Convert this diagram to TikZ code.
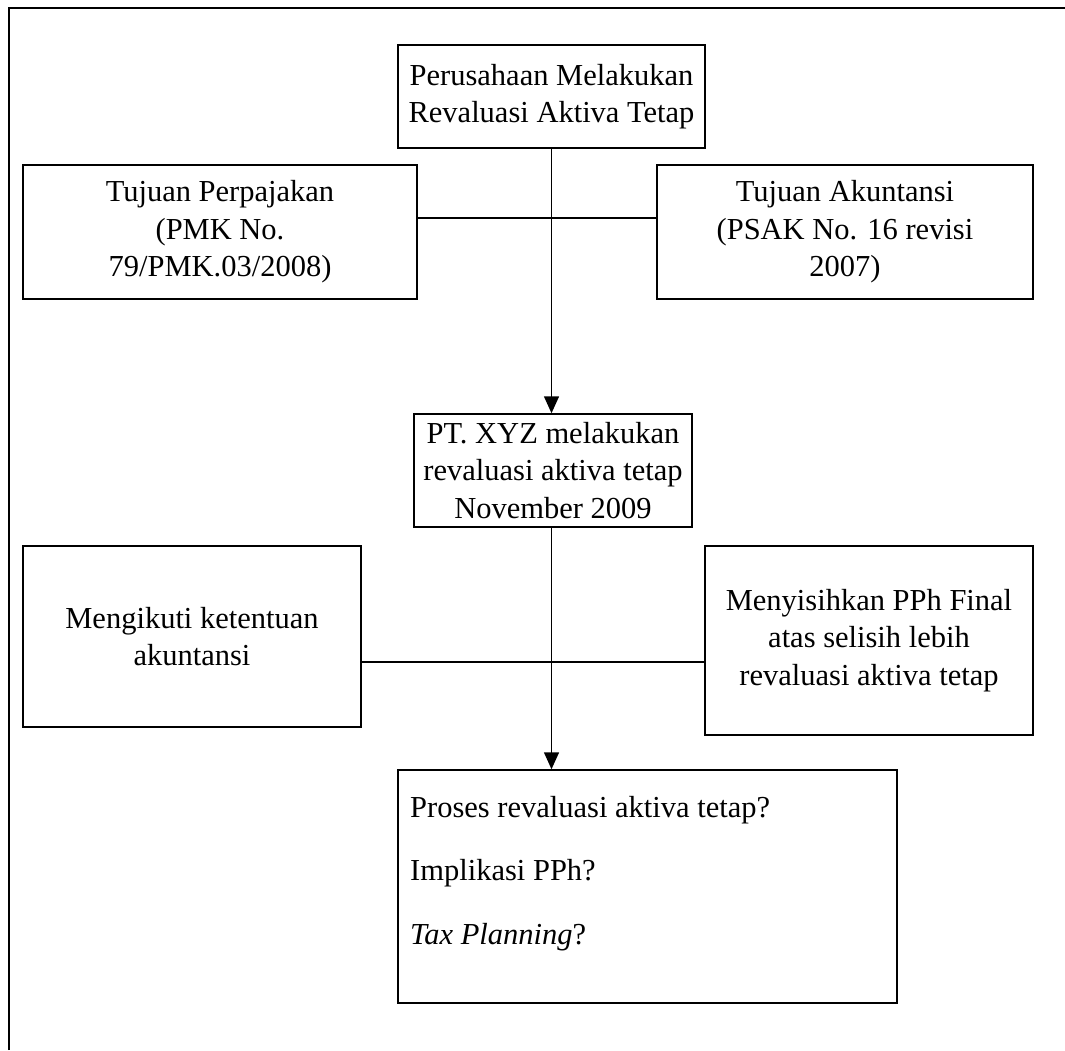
\documentclass[tikz,border=0pt]{standalone}
\usepackage{fontspec}
\setmainfont{Liberation Serif}
\usetikzlibrary{arrows.meta}
\begin{document}
\begin{tikzpicture}[x=1pt,y=-1pt,
  box/.style={draw, line width=1.5pt, align=center, inner sep=0pt,
              font=\fontsize{30.5}{37.5}\selectfont},
  conn/.style={line width=1.5pt},
  arr/.style={line width=1.5pt, -{Triangle[length=17pt,width=15pt]}},
  frame/.style={line width=2.2pt}]
\useasboundingbox (0,0) rectangle (1065,1050);
\draw[frame] (9,1050) -- (9,8) -- (1065,8);

\node[box, minimum width=307pt, minimum height=103pt] (top) at (551.5,96.5)
  {Perusahaan Melakukan\\Revaluasi Aktiva Tetap};
\node[box, minimum width=394pt, minimum height=134pt] (tax) at (220,232)
  {Tujuan Perpajakan\\(PMK No.\\79/PMK.03/2008)};
\node[box, minimum width=376pt, minimum height=134pt] (acc) at (845,232)
  {Tujuan Akuntansi\\(PSAK No. 16 revisi\\2007)};
\node[box, minimum width=278pt, minimum height=113pt] (pt) at (553,470.5)
  {PT. XYZ melakukan\\revaluasi aktiva tetap\\November 2009};
\node[box, minimum width=338pt, minimum height=181pt] (ikut) at (192,636.5)
  {Mengikuti ketentuan\\akuntansi};
\node[box, minimum width=328pt, minimum height=189pt] (sisih) at (869,640.5)
  {Menyisihkan PPh Final\\atas selisih lebih\\revaluasi aktiva tetap};
\node[box, minimum width=499pt, minimum height=233pt] (q) at (647.5,886.5) {};
\node[anchor=north west, inner sep=0pt, align=left,
      font=\fontsize{30.5}{37.5}\selectfont] (qt) at (410,796)
  {Proses revaluasi aktiva tetap?\\[26pt]Implikasi PPh?\\[26pt]\textit{Tax Planning}?};

\coordinate (h1) at (0,218);
\coordinate (h2) at (0,662);
\draw[conn] (tax.east |- h1) -- (acc.west |- h1);
\draw[conn] (ikut.east |- h2) -- (sisih.west |- h2);
\draw[arr] (top.south) -- (top.south |- pt.north);
\draw[arr] (top.south |- pt.south) -- (top.south |- q.north);
\end{tikzpicture}
\end{document}
